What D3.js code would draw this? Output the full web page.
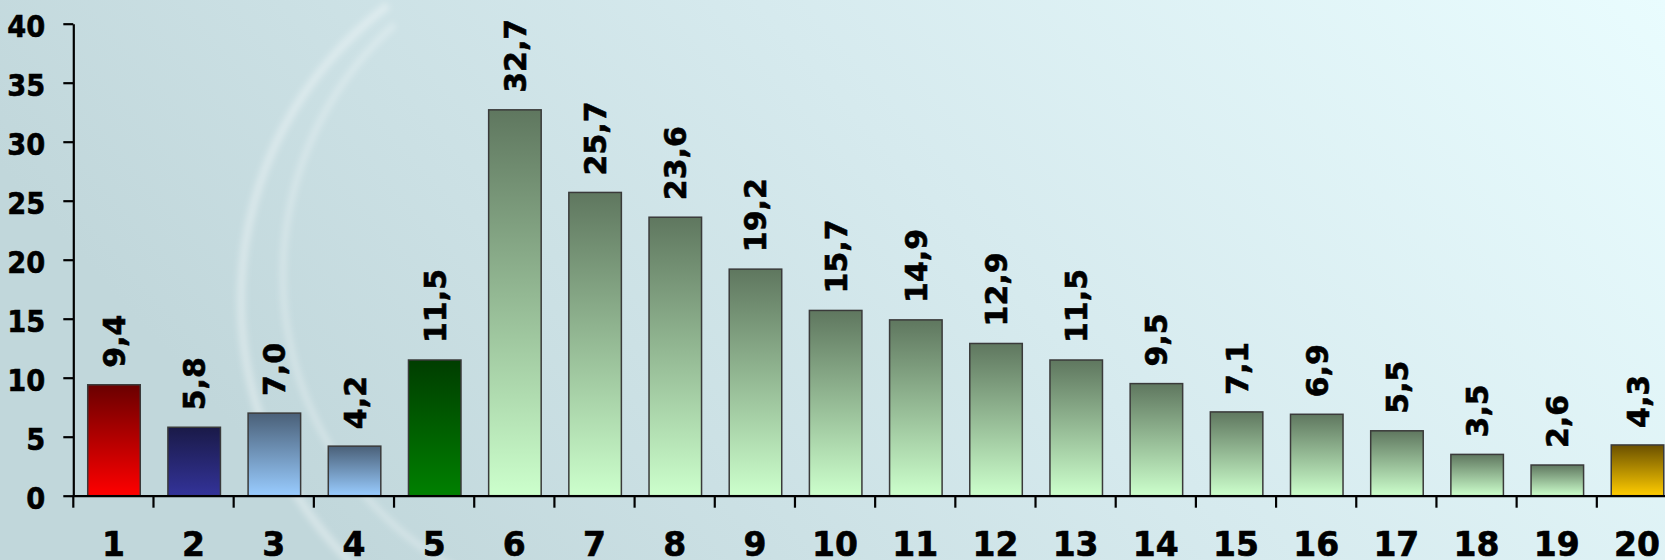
<!DOCTYPE html>
<html>
<head>
<meta charset="utf-8">
<script src="https://cdn.jsdelivr.net/npm/d3@7"></script>
<style>
  html, body { margin: 0; padding: 0; overflow: hidden; }
  svg { display: block; }
  text { font-family: "DejaVu Sans", Verdana, sans-serif; font-weight: bold; fill: #000; stroke: #000; stroke-width: 0.6px; }
</style>
</head>
<body>
<script>
// chart data
var categories = ["1", "2", "3", "4", "5", "6", "7", "8", "9", "10",
                  "11", "12", "13", "14", "15", "16", "17", "18", "19", "20"];
var values = [9.4, 5.8, 7.0, 4.2, 11.5, 32.7, 25.7, 23.6, 19.2, 15.7,
              14.9, 12.9, 11.5, 9.5, 7.1, 6.9, 5.5, 3.5, 2.6, 4.3];
var yTicks = [0, 5, 10, 15, 20, 25, 30, 35, 40];

// bar fills, top colour -> bottom colour
var green = ["#5f775f", "#ccffcc"];
var barGradients = [
  ["#6a0000", "#ff0000"],
  ["#1a1a48", "#333399"],
  ["#4a6078", "#99ccff"],
  ["#4a6078", "#99ccff"],
  ["#003d00", "#008000"],
  green, green, green, green, green, green, green,
  green, green, green, green, green, green, green,
  ["#6a5000", "#ffcc00"]
];

var width = 1665, height = 560;

var svg = d3.select("body")
  .append("svg")
  .attr("width", width)
  .attr("height", height);

var defs = svg.append("defs");

// background
var bg = defs.append("linearGradient")
  .attr("id", "bg")
  .attr("x1", 0).attr("y1", 0.3).attr("x2", 1).attr("y2", 0);
bg.append("stop").attr("offset", 0).attr("stop-color", "#c1d7db");
bg.append("stop").attr("offset", 0.5).attr("stop-color", "#d6eaee");
bg.append("stop").attr("offset", 1).attr("stop-color", "#e9fcfe");

defs.append("filter").attr("id", "soft")
  .append("feGaussianBlur").attr("stdDeviation", 3);

svg.append("rect")
  .attr("width", width)
  .attr("height", height)
  .attr("fill", "url(#bg)");

// faint swoosh arcs on the left, behind the chart
var deg = Math.PI / 180;
var swoosh = svg.append("g")
  .attr("fill", "#ffffff")
  .attr("filter", "url(#soft)");
swoosh.append("path")
  .attr("transform", "translate(610,300)")
  .attr("fill-opacity", 0.35)
  .attr("d", d3.arc()({ innerRadius: 365, outerRadius: 373, startAngle: 222 * deg, endAngle: 323 * deg }));
swoosh.append("path")
  .attr("transform", "translate(620,275)")
  .attr("fill-opacity", 0.3)
  .attr("d", d3.arc()({ innerRadius: 334, outerRadius: 340, startAngle: 200 * deg, endAngle: 318 * deg }));

// scales
var x = d3.scaleBand()
  .domain(categories)
  .range([73.3, 1677])
  .padding(0);

var y = d3.scaleLinear()
  .domain([0, 40])
  .range([495.7, 23.7]);

// bar gradients
barGradients.forEach(function(g, i) {
  var lg = defs.append("linearGradient")
    .attr("id", "bar" + i)
    .attr("x1", 0).attr("y1", 0).attr("x2", 0).attr("y2", 1);
  lg.append("stop").attr("offset", 0).attr("stop-color", g[0]);
  lg.append("stop").attr("offset", 1).attr("stop-color", g[1]);
});

var barOffset = x.bandwidth() * 0.18;
var barWidth = x.bandwidth() * 0.655;

// bars
svg.selectAll(".bar")
  .data(values)
  .enter().append("rect")
  .attr("class", "bar")
  .attr("x", function(d, i) { return x(categories[i]) + barOffset; })
  .attr("y", function(d) { return y(d); })
  .attr("width", barWidth)
  .attr("height", function(d) { return y(0) - y(d); })
  .attr("fill", function(d, i) { return "url(#bar" + i + ")"; })
  .attr("stroke", "#3a3a3a")
  .attr("stroke-width", 1.5);

// value labels, comma as decimal mark
var fmt = d3.formatLocale({ decimal: ",", thousands: ".", grouping: [3], currency: ["", ""] }).format(".1f");
svg.selectAll(".val")
  .data(values)
  .enter().append("text")
  .attr("class", "val")
  .attr("font-size", 30)
  .attr("text-anchor", "start")
  .attr("transform", function(d, i) {
    var cx = x(categories[i]) + barOffset + barWidth / 2 + 11;
    return "translate(" + cx + "," + (y(d) - 17) + ") rotate(-90)";
  })
  .text(function(d) { return fmt(d); });

// y axis
var yAxis = svg.append("g")
  .attr("transform", "translate(" + x.range()[0] + ",0)")
  .call(d3.axisLeft(y).tickValues(yTicks).tickSize(10).tickPadding(18).tickSizeOuter(0));
yAxis.select(".domain").attr("stroke", "#000").attr("stroke-width", 2.2);
yAxis.selectAll(".tick line").attr("stroke", "#000").attr("stroke-width", 2.2);
yAxis.selectAll(".tick text")
  .attr("font-size", 31)
  .attr("font-family", null)
  .attr("dy", "0.4em")
  .each(function() {
    // the y labels are a little narrower in the original
    d3.select(this)
      .attr("textLength", this.getComputedTextLength() * 0.88)
      .attr("lengthAdjust", "spacingAndGlyphs");
  });

// x axis, labels centred under the bars
var xAxis = svg.append("g")
  .attr("transform", "translate(0," + y(0) + ")")
  .call(d3.axisBottom(x).tickSize(0).tickPadding(37));
xAxis.select(".domain").attr("stroke", "#000").attr("stroke-width", 2.2);
xAxis.selectAll(".tick text").attr("font-size", 33).attr("font-family", null);

// tick marks between the categories
xAxis.selectAll(".sep")
  .data(categories)
  .enter().append("line")
  .attr("class", "sep")
  .attr("x1", function(d) { return x(d); })
  .attr("x2", function(d) { return x(d); })
  .attr("y1", 0)
  .attr("y2", 12)
  .attr("stroke", "#000")
  .attr("stroke-width", 2.2);
</script>
</body>
</html>
